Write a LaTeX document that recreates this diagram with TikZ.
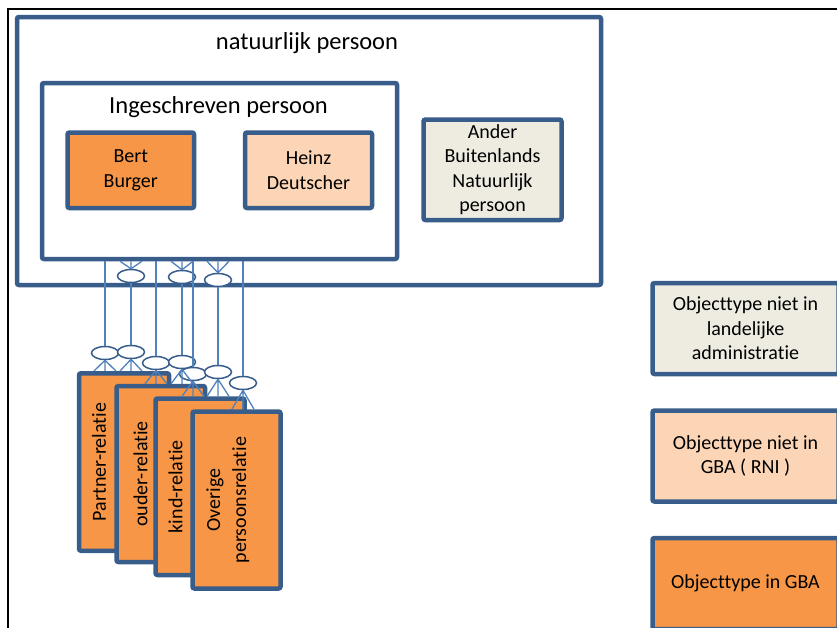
\documentclass[tikz,border=0pt]{standalone}
\usepackage{fontspec}
\setmainfont{Carlito}[Ligatures=NoCommon]
\usetikzlibrary{positioning,shapes.geometric}
\definecolor{kaderblauw}{RGB}{56,93,138}
\definecolor{lijnblauw}{RGB}{79,129,189}
\definecolor{gbaoranje}{RGB}{247,150,70}
\definecolor{rnizalm}{RGB}{251,213,181}
\definecolor{buitengrijs}{RGB}{238,236,225}

\begin{document}
\begin{tikzpicture}[x=1pt, y=-1pt, node distance=32pt,
    box/.style={draw=kaderblauw, line width=4.5pt, rounded corners=2pt, inner sep=0pt, align=center, font=\fontsize{20}{24.5}\selectfont},
    groot/.style={font=\fontsize{24.5}{29}\selectfont},
    reltekst/.style={rotate=90, anchor=north, inner sep=0pt, align=center, font=\fontsize{20}{26}\selectfont},
    kraai/.style={ellipse, draw=kaderblauw, fill=white, line width=1.5pt, minimum width=27pt, minimum height=13pt, inner sep=0pt},
    rol/.style={draw=lijnblauw, line width=1.3pt}]
    \useasboundingbox (0,0) rectangle (837,627);
    \clip (0,0) rectangle (837,627);
    \draw[line width=1.4pt] (8,9) rectangle (850,640);

    % natuurlijk persoon
    \node[box, fill=white, minimum width=584pt, minimum height=268pt] (np) at (309,151) {};
    \node[groot, anchor=base] (nplabel) at (307,49) {natuurlijk persoon};
    \node[box, fill=white, minimum width=355pt, minimum height=176pt] (ip) at (219.5,171) {};
    \node[groot, anchor=base] (iplabel) at (218.5,113) {Ingeschreven persoon};
    \node[box, fill=gbaoranje, minimum width=126.5pt, minimum height=75.5pt] (bert) at (130.75,170.25) {Bert\\Burger};
    \node[box, fill=rnizalm, minimum width=127pt, minimum height=75.5pt] (heinz) at (308.5,170.25) {Heinz\\Deutscher};
    \node[box, fill=buitengrijs, minimum width=138pt, minimum height=100.5pt] (ander) at (492.5,169.75) {Ander\\Buitenlands\\Natuurlijk\\persoon};

    % relaties
    \node[box, fill=gbaoranje, minimum width=90pt, minimum height=177.5pt] (partner) at (124,462) {};
    \node[reltekst] (partnertekst) at ([xshift=15pt]partner.west) {Partner-relatie};
    \node[box, fill=gbaoranje, minimum width=88.5pt, minimum height=176pt] (ouder) at (160.75,474) {};
    \node[reltekst] (oudertekst) at ([xshift=19pt]ouder.west) {ouder-relatie};
    \node[box, fill=gbaoranje, minimum width=89pt, minimum height=176.5pt] (kind) at (200,486.75) {};
    \node[reltekst] (kindtekst) at ([xshift=15pt]kind.west) {kind-relatie};
    \node[box, fill=gbaoranje, minimum width=88pt, minimum height=177pt] (overige) at (236.5,500) {};
    \node[reltekst] (overigetekst) at ([xshift=16pt]overige.west) {Overige\\persoonsrelatie};

    % rollen
    \node[kraai] (t1) at (131,276) {};
    \node[kraai] (t2) at (182,277) {};
    \node[kraai] (t3) at (218,280) {};
    \node[kraai] (b1) at (105,353) {};
    \node[kraai] (b2) at (131,352) {};
    \node[kraai] (b3) at (156,363) {};
    \node[kraai] (b4) at (182,362) {};
    \node[kraai] (b5) at (193,374) {};
    \node[kraai] (b6) at (218,372) {};
    \node[kraai] (b7) at (243,383) {};
    \draw[rol] (ip.south -| b1.north) -- (b1.north);
    \draw[rol] (t1.south) -- (b2.north);
    \draw[rol] (ip.south -| b3.north) -- (b3.north);
    \draw[rol] (t2.south) -- (b4.north);
    \draw[rol] (ip.south -| b5.north) -- (b5.north);
    \draw[rol] (t3.south) -- (b6.north);
    \draw[rol] (ip.south -| b7.north) -- (b7.north);
    \foreach \kop in {t1,t2,t3}
      \draw[rol] (\kop.north) -- (\kop.north |- ip.south)
        (\kop.north) -- ([xshift=-11pt]\kop.north |- ip.south)
        (\kop.north) -- ([xshift=11pt]\kop.north |- ip.south);
    \foreach \ovaal/\relatie in {b1/partner,b2/partner,b3/ouder,b4/ouder,b5/kind,b6/kind,b7/overige}
      \draw[rol] (\ovaal.south) -- (\ovaal.south |- \relatie.north)
        (\ovaal.south) -- ([xshift=-11pt]\ovaal.south |- \relatie.north)
        (\ovaal.south) -- ([xshift=11pt]\ovaal.south |- \relatie.north);

    % legenda
    \node[box, fill=buitengrijs, minimum width=186pt, minimum height=91pt] (leg1) at (745.5,328.5) {Objecttype niet in\\landelijke\\administratie};
    \node[box, fill=rnizalm, minimum width=186pt, minimum height=91pt, below=of leg1] (leg2) {Objecttype niet in\\GBA ( RNI )};
    \node[box, fill=gbaoranje, minimum width=186pt, minimum height=91pt, below=of leg2] (leg3) {Objecttype in GBA};
  \end{tikzpicture}
\end{document}
